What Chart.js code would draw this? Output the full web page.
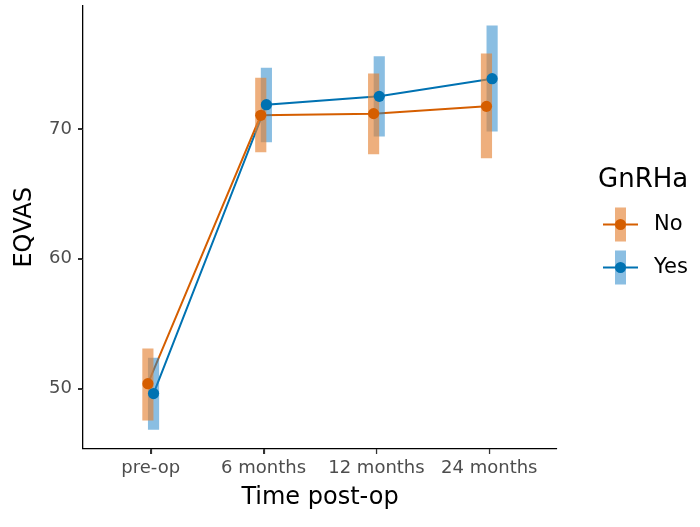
<!DOCTYPE html>
<html>
<head>
<meta charset="utf-8">
<script src="https://cdn.jsdelivr.net/npm/chart.js@4.4.1/dist/chart.umd.min.js"></script>
<style>
html,body{margin:0;padding:0;background:#fff;}
#wrap{width:700px;height:527px;position:relative;}
</style>
</head>
<body>
<div id="wrap"><canvas id="c" width="700" height="527"></canvas></div>
<script>
const categories = ['pre-op', '6 months', '12 months', '24 months'];
const groups = ['No', 'Yes'];
const noMean = [50.38, 71.05, 71.18, 71.74];
const noLow  = [47.57, 68.23, 68.08, 67.77];
const noHigh = [53.07, 73.91, 74.25, 75.79];
const yesMean = [49.62, 71.87, 72.51, 73.87];
const yesLow  = [46.85, 69.00, 69.44, 69.82];
const yesHigh = [52.35, 74.68, 75.58, 77.94];
const yTicks = [50, 60, 70];

const dodge = 0.025;
const noColor = '#D55E00', yesColor = '#0072B2';
const noBar = 'rgba(228,130,52,0.64)', yesBar = 'rgba(30,130,200,0.52)';
const FONT = "'DejaVu Sans', 'Liberation Sans', Arial, sans-serif";

function pts(means, off) { return means.map((v, i) => ({x: i + 1 + off, y: v})); }
function bars(lo, hi, off) { return lo.map((v, i) => ({x: i + 1 + off, y: [v, hi[i]]})); }

const tickMarkPlugin = {
  id: 'tickMarks',
  afterDraw(chart) {
    const ctx = chart.ctx;
    const xs = chart.scales.x, ys = chart.scales.y;
    const area = chart.chartArea;
    ctx.save();
    ctx.strokeStyle = '#333';
    ctx.lineWidth = 1.2;
    ctx.beginPath();
    xs.ticks.forEach(t => {
      const px = Math.round(xs.getPixelForValue(t.value)) + 0.5;
      ctx.moveTo(px, area.bottom); ctx.lineTo(px, area.bottom + 5);
    });
    ys.ticks.forEach(t => {
      const py = Math.round(ys.getPixelForValue(t.value)) + 0.5;
      ctx.moveTo(area.left - 5, py); ctx.lineTo(area.left, py);
    });
    ctx.stroke();
    ctx.restore();
  }
};

const legendPlugin = {
  id: 'ggLegend',
  afterDraw(chart) {
    const ctx = chart.ctx;
    ctx.save();
    ctx.fillStyle = '#000';
    ctx.font = "26px " + FONT;
    ctx.textBaseline = 'alphabetic';
    ctx.textAlign = 'left';
    ctx.fillText('GnRHa', 598, 187);
    const items = [
      {label: groups[0], line: noColor, bar: noBar, cy: 224.5},
      {label: groups[1], line: yesColor, bar: yesBar, cy: 267.5}
    ];
    items.forEach(it => {
      ctx.strokeStyle = it.line;
      ctx.lineWidth = 2;
      ctx.beginPath();
      ctx.moveTo(603, it.cy); ctx.lineTo(638, it.cy);
      ctx.stroke();
      ctx.fillStyle = it.bar;
      ctx.fillRect(615, it.cy - 17, 11, 34);
      ctx.fillStyle = it.line;
      ctx.beginPath();
      ctx.arc(620.5, it.cy, 5.5, 0, Math.PI * 2);
      ctx.fill();
      ctx.fillStyle = '#000';
      ctx.font = "21px " + FONT;
      ctx.textBaseline = 'middle';
      ctx.fillText(it.label, 654, it.cy);
    });
    ctx.restore();
  }
};

new Chart(document.getElementById('c'), {
  type: 'scatter',
  data: {
    datasets: [
      {type: 'line', label: 'No line', data: pts(noMean, -dodge), borderColor: noColor, borderWidth: 2, pointRadius: 0, fill: false, order: 3},
      {type: 'line', label: 'Yes line', data: pts(yesMean, dodge), borderColor: yesColor, borderWidth: 2, pointRadius: 0, fill: false, order: 3},
      {type: 'bar', label: 'No CI', data: bars(noLow, noHigh, -dodge), backgroundColor: noBar, borderWidth: 0, barThickness: 10.5, grouped: false, order: 2},
      {type: 'bar', label: 'Yes CI', data: bars(yesLow, yesHigh, dodge), backgroundColor: yesBar, borderWidth: 0, barThickness: 10.5, grouped: false, order: 2},
      {type: 'scatter', label: 'No', data: pts(noMean, -dodge), backgroundColor: noColor, borderWidth: 0, pointRadius: 5.6, order: 1},
      {type: 'scatter', label: 'Yes', data: pts(yesMean, dodge), backgroundColor: yesColor, borderWidth: 0, pointRadius: 5.6, order: 1}
    ]
  },
  options: {
    responsive: false,
    animation: false,
    events: [],
    layout: {padding: {top: 4, right: 143, left: 0, bottom: 0}},
    plugins: {legend: {display: false}, tooltip: {enabled: false}},
    scales: {
      x: {
        type: 'linear', min: 0.4, max: 4.6, offset: false,
        afterBuildTicks: s => { s.ticks = categories.map((c, i) => ({value: i + 1})); },
        afterFit: s => { s.height = 78; s.paddingLeft = 0; s.paddingRight = 0; },
        grid: {offset: false, drawOnChartArea: false, drawTicks: true, tickLength: 5, color: '#333', lineWidth: 1.1},
        border: {display: true, color: '#000', width: 1.3},
        ticks: {
          callback: (v) => categories[Math.round(v) - 1] || '',
          color: '#4D4D4D', font: {family: FONT, size: 18}, padding: 4, maxRotation: 0, autoSkip: false
        },
        title: {display: true, text: 'Time post-op', color: '#000', font: {family: FONT, size: 24}, padding: {top: 0, bottom: 15}}
      },
      y: {
        type: 'linear', min: 45.35, max: 79.5,
        afterBuildTicks: s => { s.ticks = yTicks.map(v => ({value: v})); },
        afterFit: s => { s.width = 83; s.paddingTop = 0; s.paddingBottom = 0; },
        grid: {drawOnChartArea: false, drawTicks: true, tickLength: 5, color: '#333', lineWidth: 1.1},
        border: {display: true, color: '#000', width: 1.3},
        ticks: {color: '#4D4D4D', font: {family: FONT, size: 18}, padding: 6},
        title: {display: true, text: 'EQVAS', color: '#000', font: {family: FONT, size: 24}, padding: {top: 10, bottom: 0}}
      }
    }
  },
  plugins: [tickMarkPlugin, legendPlugin]
});
</script>
</body>
</html>
